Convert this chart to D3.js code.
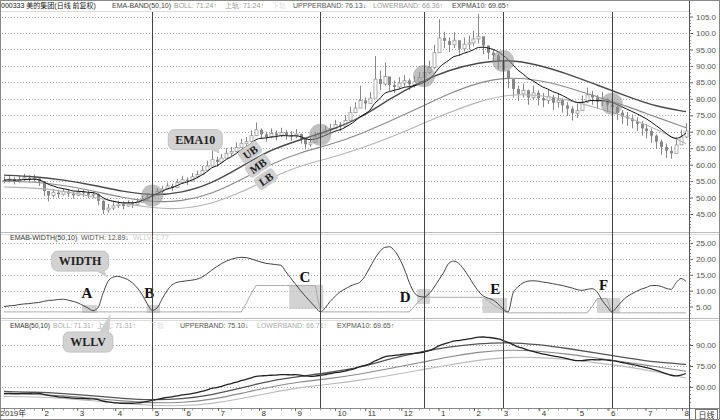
<!DOCTYPE html>
<html><head><meta charset="utf-8">
<script src="https://cdn.jsdelivr.net/npm/d3@7"></script>
<style>body{margin:0;background:#fff}svg{display:block}</style>
</head><body><svg id="c" width="720" height="420"></svg>
<script>
// ---------- DATA ----------
const closeP = [55.2,55.6,55.0,55.4,56.0,55.5,55.8,54.9,52.0,50.6,
51.5,51.0,51.8,51.2,50.7,51.6,51.3,50.8,51.0,49.0,
46.2,46.8,47.5,48.0,47.4,48.3,47.8,48.6,49.5,50.2,
50.8,51.9,52.6,53.5,53.0,54.6,55.4,55.0,56.3,57.0,
58.2,59.6,61.5,60.8,62.0,63.5,64.0,65.2,66.5,67.0,
68.8,70.6,69.2,68.4,69.5,68.8,69.8,69.0,68.6,69.3,
67.8,66.2,66.8,68.4,69.6,70.5,71.0,72.2,71.6,73.4,
75.8,77.2,79.5,78.6,80.2,86.0,84.5,86.8,84.2,83.6,
84.8,85.6,84.4,85.2,86.5,88.0,89.5,94.0,98.5,97.6,
96.4,97.8,95.2,96.6,97.0,98.2,99.0,96.2,94.0,93.2,
91.5,88.6,86.0,83.0,81.5,82.6,80.4,81.8,80.2,79.5,
80.6,78.8,79.6,78.0,77.0,75.6,76.4,79.0,81.2,80.4,
79.2,80.0,78.2,77.5,75.8,74.6,74.0,73.2,72.4,71.0,
70.2,68.8,67.0,65.4,64.2,63.4,66.0,68.4,70.2];
const highP = [56.4,56.5,56.2,56.6,57.2,56.8,57.0,56.0,55.0,52.0,
52.6,52.4,52.7,52.5,51.8,52.6,52.4,52.0,51.9,51.2,
49.2,48.0,48.6,49.0,48.8,49.2,49.0,49.6,50.6,51.2,
51.8,52.8,53.6,54.5,54.2,55.6,56.6,56.2,57.4,58.2,
59.6,61.2,66.0,62.4,63.2,65.0,65.4,66.8,67.8,68.4,
70.4,72.8,71.0,70.0,71.0,70.4,71.2,70.6,70.2,70.8,
69.4,67.8,68.2,69.8,70.8,71.8,72.4,73.6,73.0,75.0,
77.6,79.0,84.0,80.4,82.0,93.0,88.6,91.0,86.4,85.6,
86.6,87.2,86.2,87.0,88.2,89.8,91.6,96.4,104.2,100.4,
98.6,100.2,97.4,98.6,99.2,100.6,105.8,98.8,96.2,95.0,
93.6,91.0,88.6,86.0,84.0,84.6,82.8,84.0,82.6,81.8,
82.8,81.2,81.6,80.2,79.0,77.8,78.6,81.0,83.4,82.4,
81.2,82.0,80.2,79.6,78.0,76.6,76.0,75.2,74.4,73.2,
72.4,71.0,69.2,67.6,66.4,65.6,68.2,70.6,72.6];
const lowP = [54.3,54.6,54.0,54.5,55.0,54.6,54.8,53.5,50.4,48.8,
50.0,49.8,50.6,50.2,49.6,50.4,50.2,49.8,49.7,47.6,
45.0,45.4,46.2,46.8,46.4,47.2,46.8,47.4,48.4,49.0,
49.8,50.6,51.4,52.5,52.0,53.4,54.2,53.8,55.0,55.8,
57.0,58.2,59.8,59.4,60.6,62.0,62.6,63.8,65.0,65.6,
67.2,68.8,67.8,67.0,68.0,67.4,68.4,67.6,67.2,68.0,
66.4,64.8,65.4,67.0,68.2,69.2,69.6,70.8,70.2,72.0,
74.2,75.6,77.6,76.8,78.6,81.0,82.6,84.0,82.4,81.8,
83.0,83.8,82.6,83.4,84.8,86.2,87.6,89.0,94.0,95.4,
94.2,95.4,93.0,94.4,95.0,96.0,96.8,93.6,92.0,91.2,
89.0,86.0,83.2,80.4,79.4,80.4,78.2,79.6,78.0,77.4,
78.4,76.6,77.4,75.8,74.8,73.4,74.2,76.8,78.8,78.2,
77.0,77.8,76.0,75.4,73.6,72.4,71.8,71.0,70.2,68.8,
68.0,66.6,64.8,63.0,62.0,61.8,63.8,66.2,68.0];
const ema10 = [55.3,55.4,55.3,55.3,55.5,55.5,55.6,55.4,54.8,54.0,
53.5,53.0,52.7,52.4,52.0,51.9,51.8,51.6,51.5,51.0,
50.0,49.3,48.9,48.6,48.4,48.4,48.4,48.6,49.1,49.8,
50.5,51.2,51.9,52.6,53.0,53.6,54.3,54.7,55.3,56.0,
56.8,57.8,59.0,59.6,60.5,61.6,62.4,63.4,64.5,65.4,
66.5,67.6,68.0,68.1,68.4,68.5,68.8,68.8,68.7,68.8,
68.5,67.9,67.6,67.8,68.3,68.9,69.5,70.2,70.6,71.3,
72.2,73.2,74.5,75.4,76.5,78.6,80.0,81.6,82.2,82.6,
83.0,83.5,83.7,84.0,84.4,85.0,85.9,87.4,89.4,90.7,
91.7,92.8,93.2,93.8,94.3,94.9,95.6,95.7,95.4,95.0,
94.3,93.2,91.9,90.3,88.7,87.6,86.3,85.5,84.5,83.6,
83.0,82.2,81.7,81.0,80.2,79.4,78.9,78.9,79.3,79.5,
79.4,79.5,79.2,78.9,78.3,77.6,76.9,76.2,75.5,74.7,
73.9,72.9,71.8,70.7,69.5,68.4,68.0,68.5,69.65];
const bandIdx = [0,6,12,18,24,30,36,42,48,54,60,66,72,78,84,90,96,102,108,114,120,126,132,138];
const upperBand = [56.8,56.4,55.4,53.8,51.8,50.6,51.4,54.2,59.4,64.6,67.6,70.4,74.0,80.0,85.0,88.8,91.0,92.0,90.4,87.6,84.2,80.8,77.6,76.1];
const midBand = [55.0,54.8,53.8,52.0,50.0,48.6,48.8,51.0,55.4,60.2,63.8,66.0,69.2,73.2,77.2,81.6,85.0,86.6,85.8,83.6,80.6,77.8,74.4,71.2];
const lowerBand = [53.2,53.0,52.0,50.2,48.2,46.8,46.4,48.0,51.6,56.0,59.8,62.0,64.8,68.2,72.0,75.8,79.2,81.4,81.2,79.8,77.2,74.6,70.8,66.4];
const widthVals = [5.0,5.2,5.3,5.6,5.8,5.9,6.1,6.25,6.6,6.9,
7.0,7.2,7.3,7.0,6.6,6.1,5.3,4.5,3.7,4.6,
9.0,12.8,14.2,14.5,14.1,13.5,12.4,10.8,8.6,5.8,
3.8,4.6,7.4,10.0,11.8,12.6,12.9,13.1,13.3,13.6,
14.2,15.2,16.4,17.5,18.5,19.3,19.9,20.3,20.5,20.4,
20.0,19.5,19.0,18.6,18.4,18.2,18.0,16.0,14.0,12.0,
10.0,8.2,6.5,4.8,3.3,4.6,6.6,8.2,9.6,10.5,
11.4,12.0,12.6,14.5,17.2,20.0,22.2,23.6,23.8,22.6,
20.2,16.8,12.6,9.4,8.2,8.0,9.0,11.0,13.4,15.8,
18.6,19.3,18.6,16.8,14.5,12.0,9.8,8.3,7.6,7.0,
5.8,4.2,3.3,9.2,11.2,12.4,13.0,13.1,13.0,12.7,
12.5,12.2,11.9,11.6,11.2,10.8,10.3,10.1,10.4,10.6,
9.6,7.0,5.0,3.3,4.8,6.6,8.0,9.0,9.8,10.5,
11.0,11.6,11.6,11.3,10.7,10.4,12.5,13.8,12.9];
const wllvVals = [3.3,3.3,3.3,3.3,3.3,3.3,3.3,3.3,3.3,3.3,
3.3,3.3,3.3,3.3,3.3,3.3,3.3,3.3,3.3,3.3,
3.3,3.3,3.3,3.3,3.3,3.3,3.3,3.3,3.3,3.3,
3.3,3.3,3.3,3.3,3.3,3.3,3.3,3.3,3.3,3.3,
3.3,3.3,3.3,3.3,3.3,3.3,3.3,3.3,3.3,6.0,
9.0,11.6,11.6,11.6,11.6,11.6,11.6,11.6,11.6,11.6,
11.6,11.6,11.6,11.6,3.3,3.3,3.3,3.3,3.3,3.3,
3.3,3.3,3.3,3.3,3.3,3.3,3.3,3.3,3.3,3.3,
3.3,3.3,3.3,5.0,6.8,7.9,7.9,7.9,7.9,7.9,
7.9,7.9,7.9,7.9,7.9,7.9,7.9,7.9,6.8,5.6,
4.6,3.8,3.0,3.0,3.0,3.0,3.0,3.0,3.0,3.0,
3.0,3.0,3.0,3.0,3.0,3.0,3.0,3.0,3.0,5.0,
7.5,7.5,7.5,3.0,3.0,3.0,3.0,3.0,3.0,3.0,
3.0,3.0,3.0,3.0,3.0,3.0,3.0,3.0,3.0];
const monthLabels = ["2019年","2","3","4","5","6","7","8","9","10","11","12","1","2","3","4","5","6","7","8"];
const monthIdx = [0,7.7,14.8,22.5,30,36.4,43.3,51.6,58.9,67,73.1,80.4,87.9,95.1,100.6,108.3,116,122.3,129.8,137.2];
const priceTicks = [105,100,95,90,85,80,75,70,65,60,55,50,45];
const widthTicks = [25,20,15,10,5];
const lowTicks = [90,75,60];
const crossIdx = [30,64,85,101,123];
const crossVal = [50.6,69.1,86.9,91.5,78.5];
const zoneLabels = ["A","B","C","D","E","F"];
const zoneStart = [15.8,28.9,57.7,83.6,96.8,120.0];
const zoneEnd = [18.8,31.6,64.6,86.2,101.8,124.7];
const zoneTop = [5.5,5.5,11.8,10.5,7.7,7.7];
const zoneBottom = [2.95,2.95,4.2,5.8,2.95,2.95];
const zoneLabelIdx = [16.8,29.4,60.9,81.2,99.4,121.3];
const zoneLabelVal = [9.2,9.2,14.3,8.0,10.5,11.8];
const topHeader = [["000333 美的集团(日线 前复权)","#222"],["EMA-BAND(50,10)","#444"],["BOLL: 71.24↑","#999"],["上轨: 71.24↑","#999"],["下轨","#ddd"],["UPPPERBAND: 76.13↓","#555"],["LOWERBAND: 66.36↑","#999"],["EXPMA10: 69.65↑","#444"]];
const topHeaderX = [1,112,174,225,272,293,373,452];
const midHeader = [["EMAB-WIDTH(50,10)","#333"],["WIDTH: 12.89↓","#555"],["WLLV: 1.77","#ccc"]];
const midHeaderX = [10,81,133];
const botHeader = [["EMAB(50,10)","#333"],["BOLL: 71.31↑","#aaa"],["上轨: 71.31↑","#aaa"],["下轨","#ddd"],["UPPERBAND: 75.10↓","#555"],["LOWERBAND: 66.71↑","#aaa"],["EXPMA10: 69.65↑","#555"]];
const botHeaderX = [10,53,97,150,180,257,337];

// ---------- SCALES ----------
const svg = d3.select("#c");
const sans = "'Liberation Sans','Noto Sans CJK SC',sans-serif";
const serif = "'Liberation Serif','DejaVu Serif',serif";
const x = d3.scaleLinear().domain([0,138]).range([4,686]);
const yTop = d3.scaleLinear().domain([45,100]).range([214,33]);
const yMid = d3.scaleLinear().domain([5,25]).range([306.5,243]);
const yBot = d3.scaleLinear().domain([60,90]).range([387,345]);
const AX = 689;
const panels = [{y0:11,y1:232,s:yTop,ticks:priceTicks},{y0:234,y1:318,s:yMid,ticks:widthTicks},{y0:320,y1:408,s:yBot,ticks:lowTicks}];
const defs = svg.append("defs");
panels.forEach((p,k)=>{
  defs.append("clipPath").attr("id","clip"+k).append("rect").attr("x",1).attr("y",p.y0).attr("width",AX-1).attr("height",p.y1-p.y0);
});
const fmt = v => v>=100 ? v.toFixed(1) : v.toFixed(2);

panels.forEach((p,k)=>{
  const gg = svg.append("g");
  gg.selectAll("line").data(p.ticks).join("line")
    .attr("x1",2).attr("x2",AX).attr("y1",d=>Math.round(p.s(d))+0.5).attr("y2",d=>Math.round(p.s(d))+0.5)
    .attr("stroke","#aaa").attr("stroke-dasharray","1,2");
  const axG = svg.append("g").attr("transform",`translate(${AX},0)`)
    .call(d3.axisRight(p.s).tickValues(p.ticks).tickFormat(fmt).tickSize(4).tickPadding(3));
  axG.select(".domain").remove();
  axG.selectAll("line").attr("stroke","#666");
  axG.selectAll("text").attr("font-family",sans).attr("font-size",8).attr("fill","#555");
  const [lo,hi] = p.s.domain();
  const minor = d3.range(Math.ceil(lo-20), Math.floor(hi+20)+1, k===2?3:1)
     .filter(v=>p.s(v)>p.y0+2 && p.s(v)<p.y1-2);
  svg.append("g").selectAll("line").data(minor).join("line")
    .attr("x1",AX).attr("x2",AX+2).attr("y1",d=>Math.round(p.s(d))+0.5).attr("y2",d=>Math.round(p.s(d))+0.5)
    .attr("stroke","#999");
});

[232,318].forEach(yy=>{
  svg.append("line").attr("x1",0).attr("x2",720).attr("y1",yy+0.5).attr("y2",yy+0.5).attr("stroke","#bbb");
  svg.append("line").attr("x1",0).attr("x2",720).attr("y1",yy+2.5).attr("y2",yy+2.5).attr("stroke","#ddd");
});
svg.append("line").attr("x1",0).attr("x2",AX).attr("y1",11.5).attr("y2",11.5).attr("stroke","#ddd");

// ---------- TOP PANEL ----------
const gTop = svg.append("g").attr("clip-path","url(#clip0)");
const idxs = d3.range(closeP.length);
const openOf = i => i>0 ? closeP[i-1] : closeP[i];
gTop.selectAll("line.wick").data(idxs).join("line").attr("class","wick")
  .attr("x1",i=>Math.round(x(i))+0.5).attr("x2",i=>Math.round(x(i))+0.5)
  .attr("y1",i=>yTop(highP[i])).attr("y2",i=>yTop(lowP[i])).attr("stroke","#888").attr("stroke-width",1);
gTop.selectAll("rect.body").data(idxs).join("rect").attr("class","body")
  .attr("x",i=>Math.round(x(i))-1).attr("width",3)
  .attr("y",i=>yTop(Math.max(openOf(i),closeP[i])))
  .attr("height",i=>Math.max(1,Math.abs(yTop(openOf(i))-yTop(closeP[i]))))
  .attr("fill",i=>closeP[i]>=openOf(i)?"#fff":"#888")
  .attr("stroke",i=>closeP[i]>=openOf(i)?"#999":"none")
  .attr("stroke-width",0.8);

function bandLine(sc, vals){ return d3.line().x((d,i)=>x(bandIdx[i])).y(d=>sc(d)).curve(d3.curveBasis)(vals); }
const emaLine = sc => d3.line().x((d,i)=>x(i)).y(d=>sc(d)).curve(d3.curveMonotoneX)(ema10);
gTop.append("path").attr("d",bandLine(yTop,lowerBand)).attr("fill","none").attr("stroke","#b5b5b5").attr("stroke-width",1.1);
gTop.append("path").attr("d",bandLine(yTop,midBand)).attr("fill","none").attr("stroke","#8a8a8a").attr("stroke-width",1.1);
gTop.append("path").attr("d",bandLine(yTop,upperBand)).attr("fill","none").attr("stroke","#4a4a4a").attr("stroke-width",1.4);
gTop.append("path").attr("d",emaLine(yTop)).attr("fill","none").attr("stroke","#111").attr("stroke-width",1);
gTop.selectAll("circle").data(crossIdx).join("circle")
  .attr("cx",d=>x(d)).attr("cy",(d,i)=>yTop(crossVal[i])).attr("r",11)
  .attr("fill","#8c8c8c").attr("fill-opacity",0.55);

// ---------- MIDDLE PANEL ----------
const gMid = svg.append("g").attr("clip-path","url(#clip1)");
gMid.selectAll("rect").data(zoneLabels).join("rect")
  .attr("x",(d,i)=>x(zoneStart[i])).attr("width",(d,i)=>x(zoneEnd[i])-x(zoneStart[i]))
  .attr("y",(d,i)=>yMid(zoneTop[i])).attr("height",(d,i)=>yMid(zoneBottom[i])-yMid(zoneTop[i]))
  .attr("fill","#c4c4c4").attr("fill-opacity",0.75);
gMid.append("path").attr("d",d3.line().x((d,i)=>x(i)).y(d=>yMid(d))(wllvVals)).attr("fill","none").attr("stroke","#aaa").attr("stroke-width",1);
gMid.append("path").attr("d",d3.line().x((d,i)=>x(i)).y(d=>yMid(d)).curve(d3.curveMonotoneX)(widthVals)).attr("fill","none").attr("stroke","#444").attr("stroke-width",1);
gMid.selectAll("text").data(zoneLabels).join("text")
  .attr("x",(d,i)=>x(zoneLabelIdx[i])).attr("y",(d,i)=>yMid(zoneLabelVal[i])+5)
  .attr("text-anchor","middle").attr("font-family",serif).attr("font-weight","bold").attr("font-size",15).attr("fill","#111").text(d=>d);

// ---------- BOTTOM PANEL ----------
const gBot = svg.append("g").attr("clip-path","url(#clip2)");
gBot.append("path").attr("d",bandLine(yBot,lowerBand)).attr("fill","none").attr("stroke","#bbb").attr("stroke-width",1.1);
gBot.append("path").attr("d",bandLine(yBot,midBand)).attr("fill","none").attr("stroke","#8a8a8a").attr("stroke-width",1.1);
gBot.append("path").attr("d",bandLine(yBot,upperBand)).attr("fill","none").attr("stroke","#555").attr("stroke-width",1.3);
gBot.append("path").attr("d",emaLine(yBot)).attr("fill","none").attr("stroke","#222").attr("stroke-width",1.3);

svg.selectAll("line.vm").data(crossIdx).join("line").attr("class","vm")
  .attr("x1",d=>Math.round(x(d))+0.5).attr("x2",d=>Math.round(x(d))+0.5)
  .attr("y1",12).attr("y2",408).attr("stroke","#444").attr("stroke-width",1);

function header(list, xs, yb){
  list.forEach((t,i)=>{
    const el = svg.append("text").attr("x",xs[i]).attr("y",yb).attr("font-family",sans).attr("font-size",7).attr("fill",t[1]).text(t[0]);
    const avail = (i<list.length-1 ? xs[i+1] : xs[i]+90) - xs[i] - 3;
    const w = el.node().getComputedTextLength();
    if (w > avail) el.attr("textLength",avail).attr("lengthAdjust","spacingAndGlyphs");
  });
}
header(topHeader, topHeaderX, 8);
header(midHeader, midHeaderX, 240);
header(botHeader, botHeaderX, 328);

function callout(cx, cy, label, tx, ty, fs){
  const g = svg.append("g");
  const t = g.append("text").attr("x",cx).attr("y",cy+fs*0.35).attr("text-anchor","middle")
    .attr("font-family",serif).attr("font-weight","bold").attr("font-size",fs).attr("fill","#222").text(label);
  const w = t.node().getComputedTextLength()+14, h = fs+8;
  const bx = cx-w/2, by = cy-h/2;
  const tx0 = Math.max(bx+8, Math.min(bx+w-8, tx));
  const ty0 = ty>cy ? by+h-1 : by+1;
  g.insert("path","text").attr("d",`M${tx0-6},${ty0}L${tx},${ty}L${tx0+4},${ty0}Z`).attr("fill","#cfcfcf");
  g.insert("rect","path").attr("x",bx).attr("y",by).attr("width",w).attr("height",h).attr("rx",6)
    .attr("fill","#d2d2d2").attr("stroke","#c0c0c0");
}
callout(x(38.7), yTop(67.6), "EMA10", x(43.7), yTop(63.3), 12);
callout(x(15.4), yMid(19.3), "WIDTH", x(21), yMid(13.9), 12);
callout(x(17), yBot(92.1), "WLLV", x(21.6), yMid(2.95), 12);

function tag(cx, cy, label){
  const g = svg.append("g").attr("transform",`translate(${cx},${cy}) rotate(-35)`);
  const t = g.append("text").attr("x",0).attr("y",4).attr("text-anchor","middle")
    .attr("font-family",serif).attr("font-weight","bold").attr("font-size",11).attr("fill","#222").text(label);
  const w = t.node().getComputedTextLength()+8;
  g.insert("rect","text").attr("x",-w/2).attr("y",-7).attr("width",w).attr("height",14).attr("rx",4).attr("fill","#cfcfcf");
}
tag(x(49.8), yTop(63.8), "UB");
tag(x(51.4), yTop(59.6), "MB");
tag(x(53), yTop(55.6), "LB");

const tax = svg.append("g").attr("transform","translate(0,408)")
  .call(d3.axisBottom(x).tickValues(monthIdx).tickFormat((d,i)=>monthLabels[i]).tickSize(3).tickPadding(1));
tax.select(".domain").attr("d","M0,0.5H720").attr("stroke","#888");
tax.selectAll("line").attr("stroke","#666");
tax.selectAll("text").attr("font-family",sans).attr("font-size",8).attr("fill","#333")
  .attr("text-anchor","start").attr("dx",(d,i)=>i===0?-4:2).attr("y",2.5);
svg.append("g").selectAll("line").data(d3.range(0,139,2)).join("line")
  .attr("x1",d=>Math.round(x(d))+0.5).attr("x2",d=>Math.round(x(d))+0.5).attr("y1",409).attr("y2",410.5).attr("stroke","#aaa");
svg.append("rect").attr("x",AX+6.5).attr("y",409.5).attr("width",22).attr("height",10).attr("fill","#fff").attr("stroke","#777");
svg.append("text").attr("x",AX+17.5).attr("y",418).attr("text-anchor","middle").attr("font-family",sans).attr("font-size",8).attr("fill","#333").text("日线");

svg.append("line").attr("x1",AX+0.5).attr("x2",AX+0.5).attr("y1",0).attr("y2",420).attr("stroke","#555");
svg.append("rect").attr("x",0.5).attr("y",0.5).attr("width",719).attr("height",419).attr("fill","none").attr("stroke","#888");
</script></body></html>
